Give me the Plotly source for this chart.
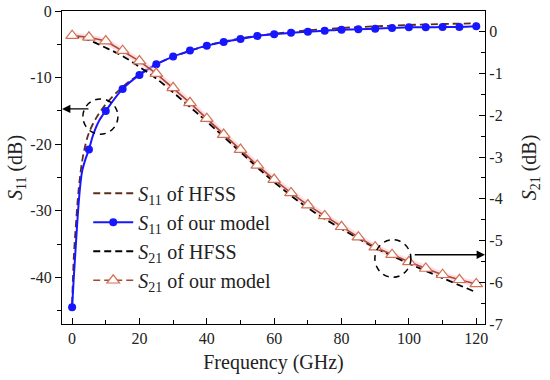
import plotly.graph_objects as go

# ---------------- data ----------------
# S11 of our model (dense line) and its markers every 5 GHz
s11_model_f = [0, 0.5, 1, 1.5, 2, 2.5, 3, 4, 5, 6, 7, 8, 9, 10, 15, 20, 25, 30, 35, 40, 45, 50, 55,
               60, 65, 70, 75, 80, 85, 90, 95, 100, 105, 110, 115, 120]
s11_model_db = [-44.5, -40.0, -36.0, -32.0, -28.5, -25.8, -24.0, -22.2, -20.8, -19.0, -17.6, -16.5,
                -15.7, -15.0, -11.7, -9.6, -8.0, -6.85, -5.95, -5.2, -4.65, -4.2, -3.75, -3.5, -3.25,
                -3.1, -2.95, -2.8, -2.75, -2.65, -2.55, -2.45, -2.45, -2.4, -2.4, -2.3]
s11_mark_f = [0, 5, 10, 15, 20, 25, 30, 35, 40, 45, 50, 55, 60, 65, 70, 75, 80, 85, 90, 95, 100,
              105, 110, 115, 120]
s11_mark_db = [-44.5, -20.8, -15.0, -11.7, -9.6, -8.0, -6.85, -5.95, -5.2, -4.65, -4.2, -3.75, -3.5,
               -3.25, -3.1, -2.95, -2.8, -2.75, -2.65, -2.55, -2.45, -2.45, -2.4, -2.4, -2.3]

# S11 of HFSS
s11_hfss_f = [0, 0.5, 1, 2, 3, 4, 5, 7, 10, 15, 20, 25, 30, 40, 50, 60, 70, 80, 90, 100, 110, 120]
s11_hfss_db = [-44.0, -37.0, -33.0, -26.5, -22.5, -20.0, -18.3, -16.2, -14.0, -11.4, -9.5, -8.0,
               -6.9, -5.2, -4.1, -3.4, -2.9, -2.55, -2.3, -2.1, -1.95, -1.85]

# S21 of our model (markers every 5 GHz)
s21_model_f = [0, 5, 10, 15, 20, 25, 30, 35, 40, 45, 50, 55, 60, 65, 70, 75, 80, 85, 90, 95, 100,
               105, 110, 115, 120]
s21_model_db = [-0.09, -0.13, -0.22, -0.45, -0.70, -1.00, -1.34, -1.70, -2.08, -2.46, -2.82, -3.20,
                -3.54, -3.86, -4.15, -4.41, -4.67, -4.92, -5.16, -5.34, -5.51, -5.67, -5.82, -5.94,
                -6.04]

# S21 of HFSS
s21_hfss_f = [0, 5, 10, 15, 20, 25, 30, 35, 40, 50, 60, 70, 80, 90, 100, 110, 120]
s21_hfss_db = [-0.09, -0.20, -0.38, -0.58, -0.84, -1.12, -1.45, -1.80, -2.15, -2.88, -3.60, -4.22,
               -4.72, -5.17, -5.55, -5.90, -6.24]

# ticks
x_ticks = [0, 20, 40, 60, 80, 100, 120]
y1_ticks = [0, -10, -20, -30, -40]
y1_text = ["0", "-10", "-20", "-30", "-40"]
y2_ticks = [0, -1, -2, -3, -4, -5, -6, -7]
y2_text = ["0", "-1", "-2", "-3", "-4", "-5", "-6", "-7"]

# ---------------- style ----------------
FONT = "Liberation Serif, Times New Roman, serif"
BLUE = "#1717ff"
BROWN_DASH = "#5e2c1c"
S21_LINE = "#a8492c"
S21_MARK = "#d27055"
DASH = "7px,4px"

fig = go.Figure()

# S21 model pink halo
fig.add_trace(go.Scatter(x=s21_model_f, y=s21_model_db, yaxis="y2", mode="lines",
                         line=dict(color="rgba(255,190,210,0.5)", width=6),
                         showlegend=False, hoverinfo="skip"))
# S21 HFSS
fig.add_trace(go.Scatter(x=s21_hfss_f, y=s21_hfss_db, yaxis="y2", mode="lines",
                         line=dict(color="black", width=1.8, dash=DASH, shape="spline"),
                         showlegend=False))
# S21 model
fig.add_trace(go.Scatter(x=s21_model_f, y=s21_model_db, yaxis="y2", mode="lines+markers",
                         line=dict(color=S21_LINE, width=1.6),
                         marker=dict(symbol="triangle-up", size=11, color="white",
                                     line=dict(color=S21_MARK, width=1.2)),
                         showlegend=False))
# S11 HFSS
fig.add_trace(go.Scatter(x=s11_hfss_f, y=s11_hfss_db, mode="lines",
                         line=dict(color=BROWN_DASH, width=1.8, dash=DASH, shape="spline"),
                         showlegend=False))
# S11 model line + markers
fig.add_trace(go.Scatter(x=s11_model_f, y=s11_model_db, mode="lines",
                         line=dict(color=BLUE, width=2, shape="spline"),
                         showlegend=False))
fig.add_trace(go.Scatter(x=s11_mark_f, y=s11_mark_db, mode="markers",
                         marker=dict(color=BLUE, size=8), showlegend=False))

# legend entries
fig.add_trace(go.Scatter(x=[None], y=[None], mode="lines", name="<i>S</i><sub>11</sub> of HFSS",
                         line=dict(color=BROWN_DASH, width=1.8, dash=DASH)))
fig.add_trace(go.Scatter(x=[None], y=[None], mode="lines+markers",
                         name="<i>S</i><sub>11</sub> of our model",
                         line=dict(color=BLUE, width=2), marker=dict(color=BLUE, size=8)))
fig.add_trace(go.Scatter(x=[None], y=[None], mode="lines", name="<i>S</i><sub>21</sub> of HFSS",
                         line=dict(color="black", width=1.8, dash=DASH)))
fig.add_trace(go.Scatter(x=[None], y=[None], mode="lines+markers",
                         name="<i>S</i><sub>21</sub> of our model",
                         line=dict(color=S21_LINE, width=1.6, dash=DASH),
                         marker=dict(symbol="triangle-up", size=11, color="white",
                                     line=dict(color=S21_MARK, width=1.2))))

# ellipses and arrows
fig.add_shape(type="circle", xref="x", yref="y", x0=3.2, x1=13.6, y0=-18.5, y1=-13.2,
              line=dict(color="black", width=1.5, dash="6px,5px"))
fig.add_shape(type="circle", xref="x", yref="y2", x0=89.9, x1=100.6, y0=-5.88, y1=-4.98,
              line=dict(color="black", width=1.5, dash="6px,5px"))
fig.add_annotation(x=-3, y=-14.7, ax=5.3, ay=-14.7, xref="x", yref="y", axref="x", ayref="y",
                   showarrow=True, arrowhead=2, arrowsize=1.2, arrowwidth=1.4, arrowcolor="black",
                   text="")
fig.add_annotation(x=122.6, y=-5.34, ax=101.3, ay=-5.34, xref="x", yref="y2", axref="x",
                   ayref="y2", showarrow=True, arrowhead=2, arrowsize=1.2, arrowwidth=1.4,
                   arrowcolor="black", text="")

axis_common = dict(showline=True, linecolor="black", linewidth=1.3, showgrid=False, zeroline=False,
                   tickcolor="black", ticklen=6, tickwidth=1.2, automargin=False,
                   tickfont=dict(family=FONT, size=16, color="#222"))

fig.update_layout(
    width=550, height=380,
    margin=dict(l=62, r=65, t=11, b=56),
    paper_bgcolor="white", plot_bgcolor="white",
    font=dict(family=FONT, color="#222"),
    xaxis=dict(range=[-3, 122.6], tickvals=x_ticks, ticks="inside", mirror=True,
               minor=dict(dtick=10, tick0=0, ticks="inside", ticklen=4, tickcolor="black"),
               title=dict(text="Frequency (GHz)", font=dict(family=FONT, size=20), standoff=8),
               **axis_common),
    yaxis=dict(range=[-47, 0], tickvals=y1_ticks, ticktext=y1_text, ticks="outside",
               minor=dict(dtick=5, tick0=0, ticks="outside", ticklen=4, tickcolor="black"),
               title=dict(text="<i>S</i><sub>11</sub> (dB)", font=dict(family=FONT, size=20),
                          standoff=2),
               **axis_common),
    yaxis2=dict(range=[-7, 0.5], overlaying="y", side="right", tickvals=y2_ticks,
                ticktext=y2_text, ticks="inside",
                minor=dict(dtick=0.5, tick0=0, ticks="inside", ticklen=4, tickcolor="black"),
                title=dict(text="<i>S</i><sub>21</sub> (dB)", font=dict(family=FONT, size=20),
                           standoff=20),
                **axis_common),
    legend=dict(x=0.062, y=0.48, xanchor="left", yanchor="top", bgcolor="rgba(0,0,0,0)",
                font=dict(family=FONT, size=20, color="#222"), itemwidth=40,
                tracegroupgap=0),
    showlegend=True,
)

fig.write_html("out.html", config={"displayModeBar": False},
               post_script="document.body.style.margin='0';")
